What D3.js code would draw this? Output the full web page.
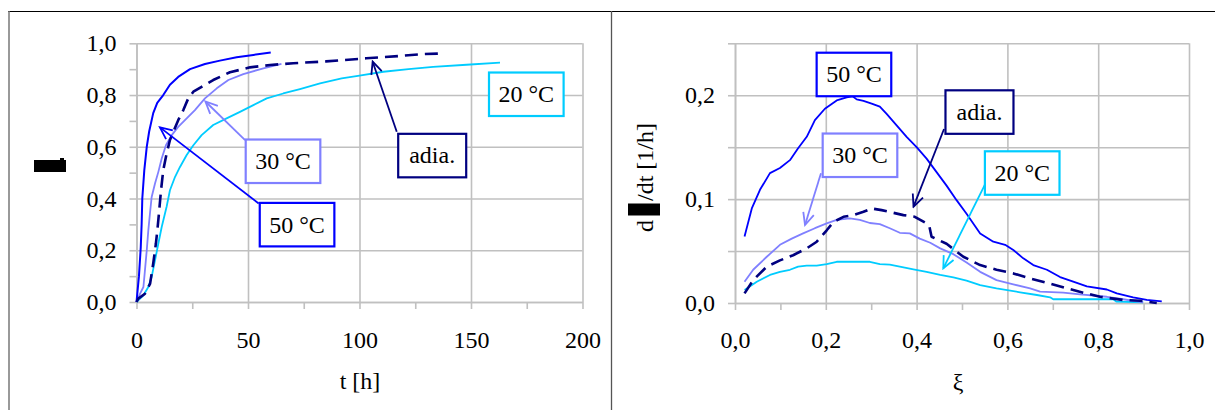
<!DOCTYPE html>
<html><head><meta charset="utf-8">
<script src="https://cdn.jsdelivr.net/npm/d3@7/dist/d3.min.js"></script>
<style>
html,body{margin:0;padding:0;background:#fff;}
svg{display:block;}
svg text{font-family:"Liberation Serif","Times New Roman",serif !important;}
</style></head>
<body>
<svg id="c" width="1215" height="410"></svg>
<script>
// ---------- DATA ----------
// Left panel: conversion ξ vs time t [h]
const tTicks = [0, 50, 100, 150, 200];
const tMinor = [0, 25, 50, 75, 100, 125, 150, 175, 200];
const xiTicks = [0, 0.2, 0.4, 0.6, 0.8, 1.0];
const xiMinor = [0, 0.1, 0.2, 0.3, 0.4, 0.5, 0.6, 0.7, 0.8, 0.9, 1.0];

const t50  = [0, 1.1, 1.9, 2.3, 2.6, 3.5, 4.6, 5.7, 7.5, 9.3, 12.0, 15.0, 18.7, 24.0, 30.7, 37.4, 44.9, 52.4, 60.2];
const xi50 = [0, 0.10, 0.21, 0.30, 0.40, 0.51, 0.60, 0.66, 0.73, 0.77, 0.80, 0.84, 0.87, 0.90, 0.92, 0.933, 0.946, 0.955, 0.964];

const t30  = [0, 1.6, 3.1, 3.8, 4.6, 5.3, 6.1, 6.8, 8.3, 9.8, 11.3, 13.2, 15.8, 18.7, 22.5, 26.2, 30.7, 36.0, 41.2, 47.9, 56.9, 65];
const xi30 = [0, 0.032, 0.058, 0.123, 0.20, 0.277, 0.348, 0.406, 0.458, 0.503, 0.555, 0.606, 0.645, 0.677, 0.71, 0.742, 0.787, 0.826, 0.858, 0.881, 0.903, 0.92];

const t20  = [0, 3.1, 5.3, 6.8, 8.3, 9.8, 11.3, 13.5, 15.0, 17.3, 19.5, 22.5, 25.5, 29.2, 34.4, 40.4, 46.4, 52.4, 58.4, 65.8, 73.3, 82.3, 92, 100, 110.7, 122, 133, 148, 163];
const xi20 = [0, 0.026, 0.058, 0.097, 0.161, 0.226, 0.29, 0.368, 0.432, 0.484, 0.522, 0.568, 0.606, 0.645, 0.684, 0.71, 0.735, 0.761, 0.787, 0.806, 0.823, 0.845, 0.864, 0.875, 0.89, 0.90, 0.909, 0.917, 0.925];

const tAd  = [0, 0.8, 3.8, 6.1, 7.5, 8.7, 9.5, 10.2, 11.0, 12.0, 13.5, 15.0, 16.8, 18.7, 21.0, 23.2, 25.5, 29.2, 34.4, 41.9, 50.9, 59.9, 70.3, 85, 103, 118, 128, 137.6];
const xiAd = [0, 0.013, 0.032, 0.071, 0.149, 0.226, 0.29, 0.355, 0.432, 0.51, 0.574, 0.626, 0.664, 0.703, 0.742, 0.787, 0.813, 0.832, 0.858, 0.888, 0.907, 0.916, 0.923, 0.93, 0.942, 0.951, 0.958, 0.961];

// Right panel: rate dξ/dt [1/h] vs ξ
const xTicksR = [0, 0.2, 0.4, 0.6, 0.8, 1.0];
const xMinorR = [0, 0.1, 0.2, 0.3, 0.4, 0.5, 0.6, 0.7, 0.8, 0.9, 1.0];
const rGrid   = [0, 0.05, 0.1, 0.15, 0.2, 0.25];
const rLabels = [0, 0.1, 0.2];

const xiR50 = [0.021,0.037,0.055,0.077,0.099,0.121,0.139,0.158,0.176,0.198,0.224,0.246,0.259,0.268,0.283,0.301,0.319,0.334,0.356,0.378,0.400,0.422,0.444,0.466,0.488,0.510,0.540,0.569,0.595,0.613,0.635,0.657,0.687,0.716,0.745,0.775,0.819,0.841,0.877,0.907,0.940];
const r50   = [0.064,0.091,0.109,0.125,0.130,0.1375,0.149,0.160,0.176,0.187,0.195,0.198,0.199,0.196,0.1945,0.192,0.189,0.182,0.171,0.160,0.150,0.139,0.126,0.113,0.099,0.086,0.067,0.059,0.056,0.051,0.043,0.0365,0.032,0.025,0.0205,0.016,0.013,0.0093,0.0055,0.003,0.0015];

const xiR30 = [0.021,0.040,0.070,0.099,0.125,0.150,0.176,0.202,0.224,0.253,0.275,0.297,0.319,0.341,0.363,0.385,0.407,0.430,0.452,0.481,0.510,0.540,0.576,0.613,0.65,0.672,0.723,0.76,0.819,0.855,0.899];
const r30   = [0.0205,0.032,0.0445,0.056,0.062,0.067,0.072,0.0766,0.080,0.0814,0.080,0.077,0.076,0.072,0.0676,0.067,0.062,0.058,0.0526,0.047,0.039,0.030,0.022,0.018,0.014,0.011,0.0099,0.0083,0.006,0.0036,0.0007];

const xiR20 = [0.021,0.048,0.077,0.099,0.121,0.139,0.158,0.180,0.202,0.224,0.297,0.319,0.341,0.363,0.393,0.422,0.452,0.481,0.510,0.540,0.576,0.628,0.665,0.694,0.701,0.76,0.833,0.84,0.899];
const r20   = [0.0125,0.0205,0.027,0.030,0.032,0.035,0.036,0.036,0.0375,0.0397,0.0397,0.0375,0.037,0.035,0.0324,0.030,0.027,0.0247,0.0215,0.0173,0.0141,0.0103,0.0077,0.0055,0.0036,0.0036,0.0036,0.0013,0.0007];

const xiRAd = [0.021,0.040,0.070,0.099,0.128,0.158,0.180,0.202,0.217,0.239,0.261,0.283,0.301,0.323,0.349,0.371,0.396,0.422,0.428,0.433,0.466,0.503,0.54,0.576,0.613,0.65,0.687,0.731,0.767,0.804,0.855,0.892,0.929];
const rAd   = [0.0093,0.022,0.035,0.041,0.046,0.0526,0.059,0.070,0.078,0.083,0.0846,0.0878,0.091,0.0894,0.0868,0.0846,0.083,0.0766,0.074,0.0638,0.057,0.0445,0.0365,0.032,0.0285,0.0237,0.0195,0.0141,0.0099,0.006,0.0029,0.0022,0.0];

const seriesNames = ["50 °C", "30 °C", "20 °C", "adia."];

// annotation anchors in data units
const notesLeft = [
  {label:"20 °C", c:"#00CCFF", box:[174.8, 0.803]},
  {label:"adia.", c:"#000080", box:[132.6, 0.566], from:[116.7, 0.658], to:[105.9, 0.929]},
  {label:"30 °C", c:"#8080FF", box:[65.7, 0.544], from:[48.7, 0.626], to:[30.9, 0.775]},
  {label:"50 °C", c:"#0000FF", box:[72.0, 0.299], from:[54.8, 0.381], to:[10.5, 0.675]}
];
const notesRight = [
  {label:"50 °C", c:"#0000FF", box:[0.262, 0.220]},
  {label:"adia.", c:"#000080", box:[0.5385, 0.1838], from:[0.4604, 0.1675], to:[0.3932, 0.0927]},
  {label:"30 °C", c:"#8080FF", box:[0.2753, 0.1422], from:[0.1894, 0.1248], to:[0.1542, 0.0751]},
  {label:"20 °C", c:"#00CCFF", box:[0.6326, 0.1251], from:[0.5529, 0.1162], to:[0.4588, 0.0334]}
];

// ---------- STYLE ----------
const COL = {"50 °C":"#0000FF","30 °C":"#8080FF","20 °C":"#00CCFF","adia.":"#000080"};
const GRID = "#c0c0c0";
const FS = 24;
const SERIF = '"Liberation Serif","Times New Roman",serif';

const svg = d3.select("#c");
const fmt = v => d3.format(".1f")(v).replace(".", ",");

// frame
svg.append("line").attr("x1",8).attr("x2",1215).attr("y1",11.5).attr("y2",11.5).attr("stroke","#000").attr("stroke-width",1.2);
svg.append("line").attr("x1",9).attr("x2",9).attr("y1",11).attr("y2",410).attr("stroke","#777").attr("stroke-width",1.5);
svg.append("line").attr("x1",611.5).attr("x2",611.5).attr("y1",11).attr("y2",410).attr("stroke","#555").attr("stroke-width",1.3);

// markers
const defs = svg.append("defs");
Object.entries(COL).forEach(([k,c],i)=>{
  defs.append("marker").attr("id","ar"+i).attr("viewBox","-13 -7 15 14")
    .attr("refX",0).attr("refY",0).attr("markerUnits","userSpaceOnUse")
    .attr("markerWidth",15).attr("markerHeight",14).attr("orient","auto")
    .append("path").attr("d","M-12,-5.5 L0,0 L-12,5.5").attr("fill","none")
    .attr("stroke",c).attr("stroke-width",1.8);
});
const markerId = c => "ar" + Object.values(COL).indexOf(c);

function styleText(sel){
  sel.style("font-family", SERIF).style("font-size", FS+"px").attr("fill","#000");
}

function panel(o){
  const g = svg.append("g");
  const x = d3.scaleLinear().domain(o.xd).range(o.xr);
  const y = d3.scaleLinear().domain(o.yd).range(o.yr);
  const w = o.xr[1]-o.xr[0], h = o.yr[0]-o.yr[1];

  g.append("g").attr("transform",`translate(${o.xr[0]},0)`)
    .call(d3.axisLeft(y).tickValues(o.yGrid).tickSize(-w).tickFormat(""))
    .call(s=>{s.select(".domain").remove(); s.selectAll("line").attr("stroke",GRID).attr("stroke-width",1.6);});
  g.append("g").attr("transform",`translate(0,${o.yr[0]})`)
    .call(d3.axisBottom(x).tickValues(o.xGrid).tickSize(-h).tickFormat(""))
    .call(s=>{s.select(".domain").remove(); s.selectAll("line").attr("stroke",GRID).attr("stroke-width",1.6);});
  g.append("g").attr("transform",`translate(${o.xr[0]},0)`)
    .call(d3.axisLeft(y).tickValues(o.yMinor).tickSize(7).tickSizeOuter(0).tickFormat(""))
    .call(s=>{s.select(".domain").attr("stroke",GRID).attr("stroke-width",1.6); s.selectAll("line").attr("stroke",GRID).attr("stroke-width",1.6);});
  g.append("g").attr("transform",`translate(0,${o.yr[0]})`)
    .call(d3.axisBottom(x).tickValues(o.xMinor).tickSize(7).tickSizeOuter(0).tickFormat(""))
    .call(s=>{s.select(".domain").attr("stroke",GRID).attr("stroke-width",1.6); s.selectAll("line").attr("stroke",GRID).attr("stroke-width",1.6);});
  g.append("g").attr("transform",`translate(${o.xr[0]},0)`)
    .call(d3.axisLeft(y).tickValues(o.yLab).tickSize(0).tickPadding(20).tickFormat(fmt))
    .call(s=>{s.select(".domain").remove(); s.attr("font-family",null).attr("font-size",null); styleText(s.selectAll("text"));});
  g.append("g").attr("transform",`translate(0,${o.yr[0]})`)
    .call(d3.axisBottom(x).tickValues(o.xLab).tickSize(0).tickPadding(o.xPad).tickFormat(o.xFmt))
    .call(s=>{s.select(".domain").remove(); s.attr("font-family",null).attr("font-size",null); styleText(s.selectAll("text"));});

  const line = d3.line().x(d=>x(d[0])).y(d=>y(d[1]));
  o.series.forEach(s=>{
    const pts = s.xs.map((v,i)=>[v, s.ys[i]]);
    g.append("path").attr("d", line(pts)).attr("fill","none")
      .attr("stroke", COL[s.name]).attr("stroke-width", s.w)
      .attr("stroke-dasharray", s.dash || null).attr("stroke-linejoin","round");
  });

  o.notes.forEach(n=>{
    if(n.from){
      g.append("line").attr("x1",x(n.from[0])).attr("y1",y(n.from[1]))
        .attr("x2",x(n.to[0])).attr("y2",y(n.to[1]))
        .attr("stroke",n.c).attr("stroke-width",1.8)
        .attr("marker-end",`url(#${markerId(n.c)})`);
    }
    const cx = x(n.box[0]), cy = y(n.box[1]);
    const r = g.append("rect").attr("fill","#fff").attr("stroke",n.c).attr("stroke-width",2.2);
    const t = g.append("text").attr("x",cx).attr("y",cy).attr("dy","0.33em")
      .attr("text-anchor","middle").text(n.label);
    styleText(t);
    const tw = t.node().getComputedTextLength();
    const bw = Math.max(tw + 19, 68), bh = 43.5;
    r.attr("x",cx-bw/2).attr("y",cy-bh/2).attr("width",bw).attr("height",bh);
  });
  return {x,y};
}

panel({
  xd:[0,200], xr:[136.5,582.5], yd:[0,1], yr:[302,43.3],
  yGrid:xiTicks, xGrid:tTicks, yMinor:xiMinor, xMinor:tMinor,
  yLab:xiTicks, xLab:tTicks, xPad:29, xFmt:d3.format("d"),
  series:[
    {name:"20 °C", xs:t20, ys:xi20, w:1.8},
    {name:"30 °C", xs:t30, ys:xi30, w:1.8},
    {name:"50 °C", xs:t50, ys:xi50, w:2},
    {name:"adia.", xs:tAd, ys:xiAd, w:2.6, dash:"13,7"}
  ],
  notes:notesLeft
});

panel({
  xd:[0,1], xr:[735,1189], yd:[0,0.25], yr:[303,43.3],
  yGrid:rGrid, xGrid:xTicksR, yMinor:rGrid, xMinor:xMinorR,
  yLab:rLabels, xLab:xTicksR, xPad:28, xFmt:fmt,
  series:[
    {name:"20 °C", xs:xiR20, ys:r20, w:1.8},
    {name:"30 °C", xs:xiR30, ys:r30, w:1.8},
    {name:"50 °C", xs:xiR50, ys:r50, w:1.8},
    {name:"adia.", xs:xiRAd, ys:rAd, w:2.6, dash:"13,7"}
  ],
  notes:notesRight
});

// axis titles
styleText(svg.append("text").attr("x",360).attr("y",389).attr("text-anchor","middle").text("t [h]"));
styleText(svg.append("text").attr("x",958).attr("y",390).attr("text-anchor","middle").text("ξ"));
// left y title (glyph rendered as a black block in the original)
svg.append("rect").attr("x",34).attr("y",160).attr("width",32).attr("height",12).attr("fill","#000");
svg.append("rect").attr("x",60).attr("y",158).attr("width",4).attr("height",3).attr("fill","#000");
// right y title
const yt = svg.append("g").attr("transform","translate(653,232) rotate(-90)");
styleText(yt.append("text").attr("x",0).attr("y",0).text("d"));
styleText(yt.append("text").attr("x",31).attr("y",0).text("/dt [1/h]"));
svg.append("rect").attr("x",628).attr("y",203.5).attr("width",32).attr("height",12).attr("fill","#000");
</script>
</body></html>
